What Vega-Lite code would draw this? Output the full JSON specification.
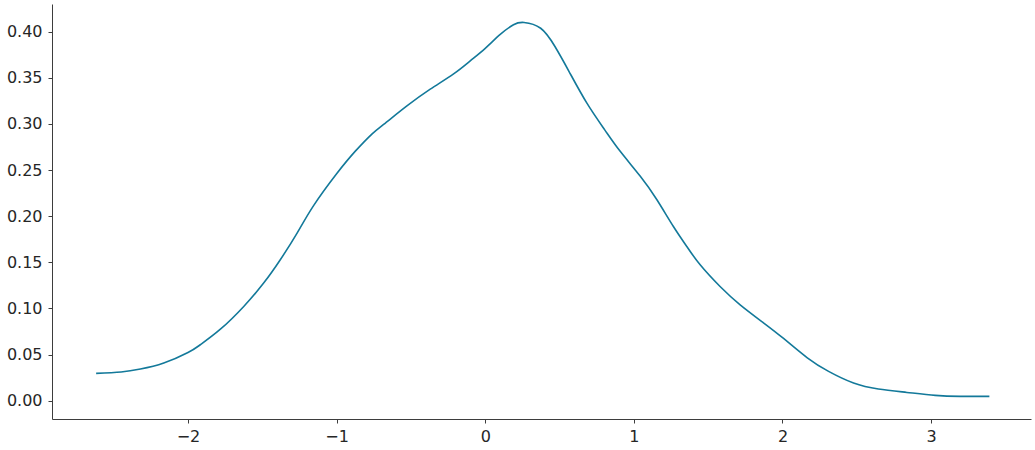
{
  "$schema": "https://vega.github.io/schema/vega-lite/v6.json",
  "width": 979,
  "height": 415,
  "autosize": {"type": "none"},
  "padding": {"left": 52, "top": 4, "right": 4, "bottom": 31},
  "background": "white",
  "config": {
    "view": {"stroke": null},
    "axis": {
      "labelFont": "DejaVu Sans",
      "labelFontSize": 16,
      "labelColor": "#262626",
      "domainColor": "#3d3d3d",
      "tickColor": "#3d3d3d",
      "tickSize": 4,
      "grid": false,
      "title": null
    }
  },
  "data": {
    "values": [
      {"x": -2.618, "y": 0.0296},
      {"x": -2.45, "y": 0.0312},
      {"x": -2.32, "y": 0.0343},
      {"x": -2.163, "y": 0.0408},
      {"x": -2.0, "y": 0.0522},
      {"x": -1.917, "y": 0.0607},
      {"x": -1.782, "y": 0.0775},
      {"x": -1.625, "y": 0.1022},
      {"x": -1.491, "y": 0.1275},
      {"x": -1.379, "y": 0.1528},
      {"x": -1.266, "y": 0.1817},
      {"x": -1.155, "y": 0.2115},
      {"x": -1.0, "y": 0.246},
      {"x": -0.874, "y": 0.2705},
      {"x": -0.761, "y": 0.2893},
      {"x": -0.684, "y": 0.2995},
      {"x": -0.527, "y": 0.3195},
      {"x": -0.37, "y": 0.3377},
      {"x": -0.213, "y": 0.3543},
      {"x": -0.101, "y": 0.3684},
      {"x": 0.0, "y": 0.382},
      {"x": 0.101, "y": 0.397},
      {"x": 0.19, "y": 0.4075},
      {"x": 0.261, "y": 0.41},
      {"x": 0.373, "y": 0.4037},
      {"x": 0.469, "y": 0.3839},
      {"x": 0.564, "y": 0.3568},
      {"x": 0.684, "y": 0.3225},
      {"x": 0.804, "y": 0.2936},
      {"x": 0.908, "y": 0.2703},
      {"x": 1.042, "y": 0.2435},
      {"x": 1.155, "y": 0.2178},
      {"x": 1.266, "y": 0.1888},
      {"x": 1.356, "y": 0.1672},
      {"x": 1.446, "y": 0.1473},
      {"x": 1.58, "y": 0.1238},
      {"x": 1.715, "y": 0.104},
      {"x": 1.872, "y": 0.0845},
      {"x": 2.007, "y": 0.0675},
      {"x": 2.167, "y": 0.0465},
      {"x": 2.31, "y": 0.0318},
      {"x": 2.478, "y": 0.0192},
      {"x": 2.645, "y": 0.0127},
      {"x": 2.837, "y": 0.009},
      {"x": 3.028, "y": 0.0058},
      {"x": 3.196, "y": 0.0047},
      {"x": 3.392, "y": 0.0047}
    ]
  },
  "mark": {"type": "line", "interpolate": "natural", "color": "#13799a", "strokeWidth": 1.6},
  "encoding": {
    "x": {
      "field": "x",
      "type": "quantitative",
      "scale": {"domain": [-2.915, 3.672], "nice": false, "zero": false},
      "axis": {"values": [-2, -1, 0, 1, 2, 3], "format": "d", "labelPadding": 5}
    },
    "y": {
      "field": "y",
      "type": "quantitative",
      "scale": {"domain": [-0.0198, 0.43], "nice": false, "zero": false},
      "axis": {"values": [0, 0.05, 0.1, 0.15, 0.2, 0.25, 0.3, 0.35, 0.4], "format": ".2f", "labelPadding": 6}
    }
  }
}
